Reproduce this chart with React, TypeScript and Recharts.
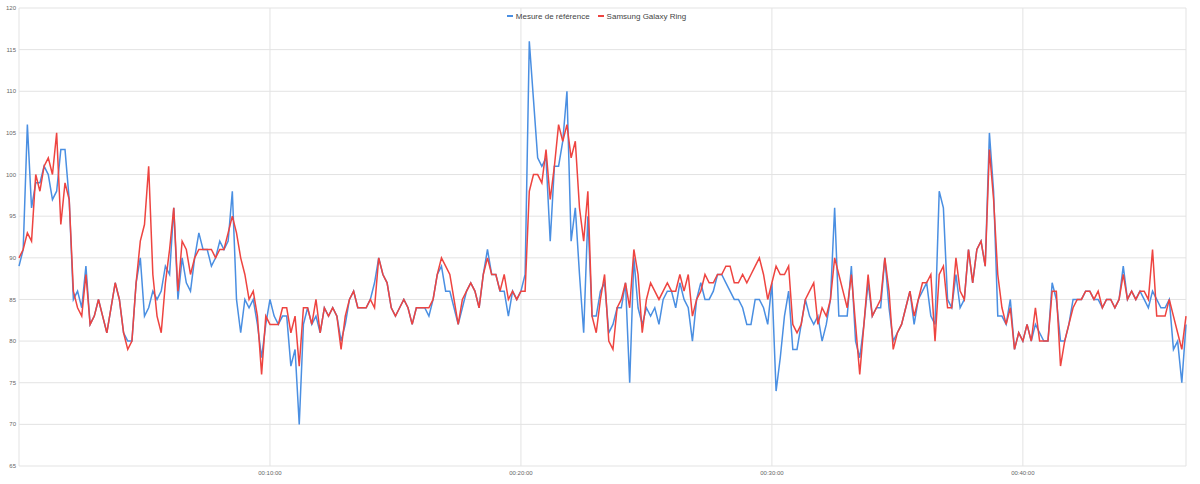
import { CartesianGrid, Legend, Line, LineChart, XAxis, YAxis } from "recharts";

// one sample every 10 seconds
const STEP_SECONDS = 10;

// Mesure de référence (bpm)
const reference = [
  89, 91, 106, 96, 99, 99, 101, 100, 97, 98,
  103, 103, 97, 85, 86, 84, 89, 82, 83, 85,
  83, 81, 84, 87, 85, 81, 80, 80, 87, 90,
  83, 84, 86, 85, 86, 89, 88, 96, 85, 90,
  87, 86, 90, 93, 91, 91, 89, 90, 92, 91,
  92, 98, 85, 81, 85, 84, 85, 82, 78, 82,
  85, 83, 82, 83, 83, 77, 79, 70, 82, 84,
  82, 83, 81, 84, 83, 84, 83, 80, 82, 85,
  86, 84, 84, 84, 85, 87, 90, 88, 87, 84,
  83, 84, 85, 84, 82, 84, 84, 84, 83, 85,
  88, 89, 86, 86, 84, 82, 84, 86, 87, 86,
  84, 88, 91, 88, 88, 86, 86, 83, 86, 85,
  86, 88, 116, 109, 102, 101, 102, 92, 101, 101,
  104, 110, 92, 96, 88, 81, 95, 83, 83, 86,
  87, 81, 82, 84, 84, 87, 75, 90, 84, 82,
  84, 83, 84, 82, 85, 86, 86, 84, 87, 85,
  84, 80, 85, 87, 85, 85, 86, 88, 88, 87,
  86, 85, 85, 84, 82, 82, 85, 85, 84, 82,
  87, 74, 78, 83, 86, 79, 79, 82, 85, 83,
  82, 83, 80, 82, 85, 96, 83, 83, 83, 89,
  80, 78, 82, 87, 83, 84, 84, 90, 84, 80,
  81, 82, 84, 86, 82, 85, 86, 87, 83, 82,
  98, 96, 85, 84, 88, 84, 85, 91, 87, 91,
  92, 89, 105, 98, 83, 83, 82, 85, 79, 81,
  80, 82, 80, 82, 81, 80, 80, 87, 85, 80,
  80, 82, 85, 85, 85, 86, 86, 85, 85, 84,
  85, 85, 84, 85, 89, 85, 86, 85, 86, 85,
  84, 86, 85, 84, 84, 85, 79, 80, 75, 82,
];

// Samsung Galaxy Ring (bpm)
const ring = [
  90, 91, 93, 92, 100, 98, 101, 102, 100, 105,
  94, 99, 97, 86, 84, 83, 88, 82, 83, 85,
  83, 81, 84, 87, 85, 81, 79, 80, 87, 92,
  94, 101, 88, 83, 81, 87, 91, 96, 86, 92,
  91, 88, 90, 91, 91, 91, 91, 90, 91, 91,
  93, 95, 93, 90, 88, 85, 86, 83, 76, 83,
  82, 82, 82, 84, 84, 81, 83, 77, 84, 84,
  82, 85, 81, 84, 83, 84, 83, 79, 83, 85,
  86, 84, 84, 84, 85, 84, 90, 88, 87, 84,
  83, 84, 85, 84, 82, 84, 84, 84, 84, 85,
  88, 90, 89, 88, 85, 82, 85, 86, 87, 86,
  84, 88, 90, 88, 88, 86, 88, 85, 86, 85,
  86, 86, 98, 100, 100, 99, 103, 97, 101, 106,
  104, 106, 102, 104, 96, 92, 98, 83, 81, 85,
  88, 80, 79, 84, 85, 87, 84, 91, 88, 81,
  85, 87, 86, 85, 86, 87, 86, 86, 88, 86,
  88, 83, 85, 86, 88, 87, 87, 88, 88, 89,
  89, 87, 87, 88, 87, 88, 89, 90, 88, 85,
  87, 89, 88, 88, 89, 82, 81, 82, 85, 86,
  87, 82, 84, 83, 85, 90, 88, 86, 84, 88,
  82, 76, 82, 88, 83, 84, 85, 90, 86, 79,
  81, 82, 84, 86, 83, 85, 87, 87, 88, 80,
  88, 89, 84, 84, 90, 86, 85, 91, 87, 91,
  92, 89, 103, 97, 88, 84, 82, 84, 79, 81,
  80, 82, 80, 84, 80, 80, 80, 86, 86, 77,
  80, 82, 84, 85, 85, 86, 86, 85, 86, 84,
  85, 85, 84, 85, 88, 85, 86, 85, 86, 86,
  85, 91, 83, 83, 83, 85, 83, 81, 79, 83,
];

const xTicks = [600, 1200, 1800, 2400];
const yTicks = [65, 70, 75, 80, 85, 90, 95, 100, 105, 110, 115, 120];

const series = [
  { key: "reference", name: "Mesure de référence", color: "#4a8fe2" },
  { key: "ring", name: "Samsung Galaxy Ring", color: "#ee4440" },
];

const data = reference.map((v, i) => ({
  t: i * STEP_SECONDS,
  reference: v,
  ring: ring[i],
}));

const FONT = "Arial, 'Liberation Sans', sans-serif";

function formatTime(sec: number) {
  const h = Math.floor(sec / 3600);
  const m = Math.floor((sec % 3600) / 60);
  const s = sec % 60;
  const pad = (n: number) => String(n).padStart(2, "0");
  return `${pad(h)}:${pad(m)}:${pad(s)}`;
}

function LegendContent() {
  return (
    <div
      style={{
        display: "flex",
        justifyContent: "center",
        alignItems: "center",
        height: 12,
        fontFamily: FONT,
        fontSize: 8,
        color: "#444",
      }}
    >
      {series.map((s, idx) => (
        <div
          key={s.key}
          style={{
            display: "flex",
            alignItems: "center",
            marginLeft: idx === 0 ? 0 : 8,
          }}
        >
          <span
            style={{
              display: "inline-block",
              width: 6,
              height: 2.5,
              background: s.color,
              marginRight: 3,
            }}
          />
          <span>{s.name}</span>
        </div>
      ))}
    </div>
  );
}

function App() {
  return (
    <div style={{ position: "absolute", left: 0, top: 0 }}>
      <LineChart
        width={1200}
        height={484}
        data={data}
        margin={{ top: 8, right: 14, bottom: 0, left: 0 }}
      >
        <CartesianGrid stroke="#e3e3e3" strokeWidth={1} />
        <XAxis
          type="number"
          dataKey="t"
          domain={[0, 2790]}
          ticks={xTicks}
          tickFormatter={formatTime}
          axisLine={false}
          tickLine={false}
          tickSize={0}
          tickMargin={5}
          height={18}
          tick={{ fontSize: 6, fill: "#666", fontFamily: FONT }}
        />
        <YAxis
          type="number"
          domain={[65, 120]}
          ticks={yTicks}
          interval={0}
          axisLine={false}
          tickLine={false}
          tickSize={0}
          tickMargin={3}
          width={19}
          tick={{ fontSize: 6, fill: "#666", fontFamily: FONT }}
        />
        {series.map((s) => (
          <Line
            key={s.key}
            type="linear"
            dataKey={s.key}
            name={s.name}
            stroke={s.color}
            strokeWidth={1.5}
            dot={false}
            activeDot={false}
            isAnimationActive={false}
          />
        ))}
        <Legend
          verticalAlign="middle"
          align="center"
          layout="horizontal"
          content={<LegendContent />}
          wrapperStyle={{ top: 10, left: 0, width: 1193 }}
        />
      </LineChart>
    </div>
  );
}

export default App;
